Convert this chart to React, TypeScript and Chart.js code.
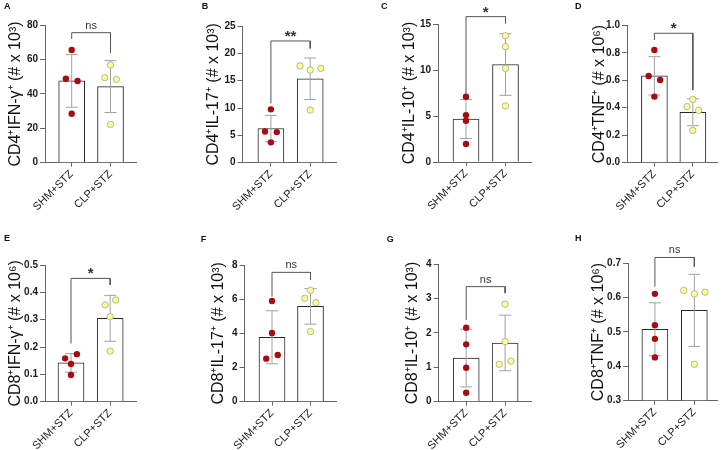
import React, { useEffect, useRef } from "react";
import { Chart, registerables } from "chart.js";

Chart.register(...registerables);
Chart.defaults.font.family = "'Liberation Sans', Arial, Helvetica, sans-serif";

// ---------------- data ----------------
const CATEGORIES = ["SHM+STZ", "CLP+STZ"];
const PANEL_LETTERS = ["A", "B", "C", "D", "E", "F", "G", "H"];
const Y_TITLES = [
  "CD4⁺IFN-γ⁺ (# x 10³)",
  "CD4⁺IL-17⁺ (# x 10³)",
  "CD4⁺IL-10⁺ (# x 10³)",
  "CD4⁺TNF⁺ (# x 10⁶)",
  "CD8⁺IFN-γ⁺ (# x 10⁶)",
  "CD8⁺IL-17⁺ (# x 10³)",
  "CD8⁺IL-10⁺ (# x 10³)",
  "CD8⁺TNF⁺ (# x 10⁶)",
];
const Y_MIN = [0, 0, 0, 0, 0, 0, 0, 0.3];
const Y_MAX = [80, 25, 15, 1, 0.5, 8, 4, 0.7];
const Y_STEP = [20, 5, 5, 0.2, 0.1, 2, 1, 0.1];
const Y_DECIMALS = [0, 0, 0, 1, 1, 0, 0, 1];

const SHM_DOTS = [
  [65.6, 48.9, 47.6, 28.5],
  [9.76, 5.7, 5.6, 3.72],
  [7.1, 5.1, 4.49, 1.96],
  [0.82, 0.631, 0.602, 0.481],
  [0.1585, 0.174, 0.138, 0.0976],
  [5.89, 4.02, 2.73, 2.52],
  [2.155, 1.67, 0.99, 0.26],
  [0.611, 0.52, 0.48, 0.426],
];
const CLP_DOTS = [
  [56.9, 49.5, 48.5, 22.3],
  [17.7, 16.95, 17.26, 9.63],
  [13.73, 12.54, 10.18, 6.09],
  [0.461, 0.408, 0.381, 0.235],
  [0.354, 0.372, 0.311, 0.185],
  [6.05, 6.52, 5.8, 4.1],
  [2.84, 1.75, 1.09, 1.18],
  [0.621, 0.611, 0.616, 0.406],
];
// horizontal jitter of the dots, in category units
const SHM_JITTER = [
  [0, -0.15, 0.15, 0],
  [0, -0.15, 0.15, 0],
  [0, 0, 0, 0],
  [0, -0.15, 0.15, 0],
  [-0.15, 0.15, 0, 0],
  [0, 0, 0.15, -0.15],
  [0, 0, 0, 0],
  [0, 0, 0, 0],
];
const CLP_JITTER = [
  [0, -0.15, 0.15, 0],
  [-0.26, 0, 0.27, 0],
  [0, 0, 0, 0],
  [0, -0.15, 0.15, 0],
  [-0.13, 0.14, 0, 0],
  [-0.15, 0, 0.14, 0],
  [0, 0, -0.15, 0.15],
  [-0.27, 0, 0.27, 0],
];
const MEANS = [
  [47.6, 44.3],
  [6.25, 15.35],
  [4.67, 10.6],
  [0.632, 0.367],
  [0.142, 0.305],
  [3.77, 5.58],
  [1.27, 1.71],
  [0.508, 0.563],
];
const SDS = [
  [15.3, 15.1],
  [2.4, 3.8],
  [2.12, 3.35],
  [0.14, 0.098],
  [0.034, 0.084],
  [1.55, 1.04],
  [0.84, 0.81],
  [0.077, 0.105],
];
// [left leg bottom, bracket top, right leg bottom]
const BRACKETS = [
  [72, 75.7, 64.1],
  [10.85, 22.26, 20.9],
  [7.39, 15.8, 15.07],
  [0.893, 0.942, 0.529],
  [0.213, 0.451, 0.427],
  [6.15, 7.57, 7.12],
  [2.38, 3.35, 3.16],
  [0.632, 0.717, 0.69],
];
const SIG_LABELS = ["ns", "**", "*", "*", "*", "ns", "ns", "ns"];

// ---------------- layout ----------------
type Lay = {
  left: number; top: number; w: number;
  axisX: number; c1: number; c2: number; xEnd: number;
  plotTop: number; plotBottom: number; titleX: number;
  letterX: number; letterY: number;
};
const H = 225;
const LAYOUT: Lay[] = [
  { left: 0, top: 0, w: 180, axisX: 45, c1: 71.7, c2: 110.5, xEnd: 136.7, plotTop: 25.3, plotBottom: 162.7, titleX: 16, letterX: 4, letterY: 3 },
  { left: 180, top: 0, w: 180, axisX: 62.5, c1: 90.9, c2: 130.2, xEnd: 156, plotTop: 26, plotBottom: 162.7, titleX: 34, letterX: 21.7, letterY: 3.3 },
  { left: 360, top: 0, w: 180, axisX: 78, c1: 106, c2: 145.5, xEnd: 171, plotTop: 24, plotBottom: 162, titleX: 50, letterX: 21, letterY: 2.7 },
  { left: 540, top: 0, w: 182, axisX: 87, c1: 114.8, c2: 153.8, xEnd: 178.5, plotTop: 25.3, plotBottom: 162.7, titleX: 60, letterX: 35, letterY: 3.3 },
  { left: 0, top: 225, w: 180, axisX: 45, c1: 71, c2: 110.2, xEnd: 136.7, plotTop: 40, plotBottom: 176.7, titleX: 16, letterX: 4, letterY: 10 },
  { left: 180, top: 225, w: 180, axisX: 64.5, c1: 92, c2: 130.5, xEnd: 156.7, plotTop: 40, plotBottom: 176.7, titleX: 39, letterX: 20.7, letterY: 10.7 },
  { left: 360, top: 225, w: 180, axisX: 78.5, c1: 106.2, c2: 145.1, xEnd: 171.7, plotTop: 39.3, plotBottom: 176.7, titleX: 53, letterX: 26.7, letterY: 10.7 },
  { left: 540, top: 225, w: 182, axisX: 88, c1: 115.3, c2: 155.3, xEnd: 178.5, plotTop: 38.3, plotBottom: 175.7, titleX: 59, letterX: 35, letterY: 10 },
];

const AXIS_COLOR = "#666";
const BAR_BORDER = "#262626";
const ERR_COLOR = "#a0a0a0";
const BRACKET_COLOR = "#555";
const SHM_COLOR = "#a50d12";
const CLP_COLOR = "#fbfba0";
const CLP_EDGE = "#a9a978";

function Panel({ i }: { i: number }) {
  const ref = useRef<HTMLCanvasElement>(null);
  const L = LAYOUT[i];

  useEffect(() => {
    if (!ref.current) return;
    const u = L.c2 - L.c1;
    const xMin = 1 - (L.c1 - L.axisX) / u;
    const xMax = 2 + (L.xEnd - L.c2) / u;
    const capHalf = 6 / u;
    const titleSize = 16;
    const titleLH = titleSize * 1.2;

    const errData: any[] = [];
    [0, 1].forEach((k) => {
      const x = k + 1;
      const m = MEANS[i][k];
      const s = SDS[i][k];
      errData.push(
        { x, y: m - s }, { x, y: m + s }, { x, y: null },
        { x: x - capHalf, y: m + s }, { x: x + capHalf, y: m + s }, { x, y: null },
        { x: x - capHalf, y: m - s }, { x: x + capHalf, y: m - s }, { x, y: null }
      );
    });

    const [lb, bt, rb] = BRACKETS[i];

    const sigPlugin = {
      id: "sig" + i,
      afterDatasetsDraw(chart: any) {
        const { ctx } = chart;
        const xs = chart.scales.x;
        const ys = chart.scales.y;
        const label = SIG_LABELS[i];
        const isNs = label === "ns";
        const px = xs.getPixelForValue(1.5);
        const py = ys.getPixelForValue(bt);
        ctx.save();
        ctx.font = isNs
          ? "11px 'Liberation Sans', Arial, sans-serif"
          : "bold 15px 'Liberation Sans', Arial, sans-serif";
        ctx.fillStyle = "#333";
        ctx.textAlign = "center";
        ctx.textBaseline = "alphabetic";
        ctx.fillText(label, px, py - (isNs ? 4 : 0));
        ctx.restore();
      },
    };

    const chart = new Chart(ref.current, {
      type: "bar",
      data: {
        datasets: [
          {
            type: "scatter",
            data: SHM_DOTS[i].map((v, j) => ({ x: 1 + SHM_JITTER[i][j], y: v })),
            backgroundColor: SHM_COLOR,
            borderColor: SHM_COLOR,
            borderWidth: 0,
            pointRadius: 3.2,
            order: 1,
          } as any,
          {
            type: "scatter",
            data: CLP_DOTS[i].map((v, j) => ({ x: 2 + CLP_JITTER[i][j], y: v })),
            backgroundColor: CLP_COLOR,
            borderColor: CLP_EDGE,
            borderWidth: 0.8,
            pointRadius: 3.2,
            order: 1,
          } as any,
          {
            type: "line",
            data: errData,
            borderColor: ERR_COLOR,
            borderWidth: 1,
            pointRadius: 0,
            spanGaps: false,
            order: 2,
          } as any,
          {
            type: "line",
            data: [
              { x: 1, y: lb },
              { x: 1, y: bt },
              { x: 2, y: bt },
              { x: 2, y: rb },
            ],
            borderColor: BRACKET_COLOR,
            borderWidth: 1,
            pointRadius: 0,
            clip: false,
            order: 2,
          } as any,
          {
            type: "bar",
            data: [
              { x: 1, y: MEANS[i][0] },
              { x: 2, y: MEANS[i][1] },
            ],
            backgroundColor: "#ffffff",
            borderColor: BAR_BORDER,
            borderWidth: 1,
            barThickness: 26,
            base: Y_MIN[i],
            borderSkipped: "bottom",
            order: 3,
          } as any,
        ],
      },
      options: {
        responsive: false,
        animation: false,
        events: [],
        layout: {
          padding: { left: 0, top: L.plotTop, right: L.w - L.xEnd, bottom: 0 },
        },
        plugins: {
          legend: { display: false },
          tooltip: { enabled: false },
        },
        scales: {
          x: {
            type: "linear",
            min: xMin,
            max: xMax,
            offset: false,
            afterBuildTicks: (s: any) => {
              s.ticks = [{ value: 1 }, { value: 2 }];
            },
            afterFit: (s: any) => {
              s.height = H - L.plotBottom;
            },
            ticks: {
              autoSkip: false,
              minRotation: 45,
              maxRotation: 45,
              padding: 1,
              color: "#222",
              font: { size: 11 },
              callback: (v: any) => (v === 1 ? CATEGORIES[0] : v === 2 ? CATEGORIES[1] : ""),
            },
            grid: {
              offset: false,
              drawOnChartArea: false,
              drawTicks: true,
              tickLength: 4,
              color: AXIS_COLOR,
            },
            border: { color: AXIS_COLOR, width: 1 },
          },
          y: {
            type: "linear",
            min: Y_MIN[i],
            max: Y_MAX[i],
            afterFit: (s: any) => {
              s.width = L.axisX;
            },
            ticks: {
              stepSize: Y_STEP[i],
              padding: 2,
              color: "#1a1a1a",
              font: { size: 10, weight: "bold" },
              callback: (v: any) => Number(v).toFixed(Y_DECIMALS[i]),
            },
            grid: {
              drawOnChartArea: false,
              drawTicks: true,
              tickLength: 5,
              color: AXIS_COLOR,
            },
            border: { color: AXIS_COLOR, width: 1 },
            title: {
              display: true,
              text: Y_TITLES[i],
              color: "#111",
              font: { size: titleSize, lineHeight: 1.2 },
              padding: { top: L.titleX - titleLH / 2, bottom: 0 },
            },
          },
        },
      } as any,
      plugins: [sigPlugin],
    });
    return () => chart.destroy();
  }, [i]);

  return (
    <div style={{ position: "absolute", left: L.left, top: L.top, width: L.w, height: H }}>
      <canvas ref={ref} width={L.w} height={H} style={{ position: "absolute", left: 0, top: 0 }} />
      <div
        style={{
          position: "absolute",
          left: L.letterX,
          top: L.letterY - 2,
          font: "bold 9px 'Liberation Sans', Arial, sans-serif",
          color: "#111",
          lineHeight: "10px",
        }}
      >
        {PANEL_LETTERS[i]}
      </div>
    </div>
  );
}

export default function App() {
  return (
    <div
      style={{
        position: "absolute",
        left: 0,
        top: 0,
        width: 722,
        height: 450,
        background: "#ffffff",
        overflow: "hidden",
      }}
    >
      {LAYOUT.map((_, i) => (
        <Panel key={i} i={i} />
      ))}
    </div>
  );
}
